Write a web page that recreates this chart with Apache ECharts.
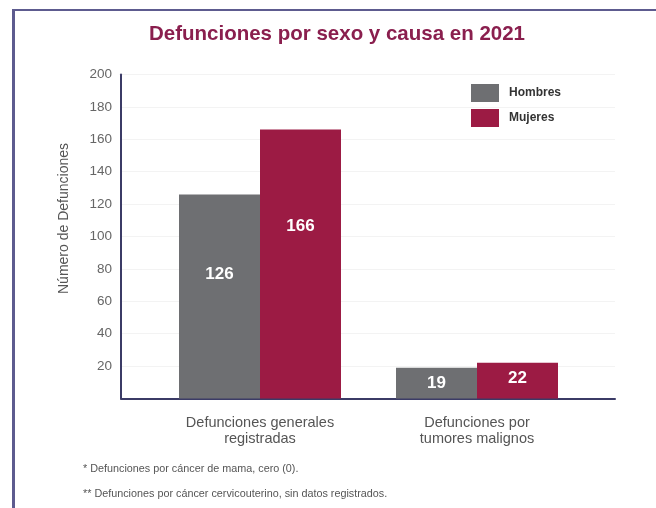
<!DOCTYPE html>
<html>
<head>
<meta charset="utf-8">
<script src="https://cdn.jsdelivr.net/npm/echarts@6/dist/echarts.min.js"></script>
<style>
html,body{margin:0;padding:0;background:#fff;}
#c{width:656px;height:508px;}
</style>
</head>
<body>
<div id="c"></div>
<script>
var categories = ['Defunciones generales\nregistradas', 'Defunciones por\ntumores malignos'];
var hombres = [126, 19];
var mujeres = [166, 22];
var yTicks = [0, 20, 40, 60, 80, 100, 120, 140, 160, 180, 200];
var seriesNames = ['Hombres', 'Mujeres'];
var titleText = 'Defunciones por sexo y causa en 2021';
var yName = 'Número de Defunciones';
var notes = ['* Defunciones por cáncer de mama, cero (0).', '** Defunciones por cáncer cervicouterino, sin datos registrados.'];

var chart = echarts.init(document.getElementById('c'));
var font = 'Liberation Sans, Arial, sans-serif';

function items(arr, tallPos, smallPos) {
  return arr.map(function (v) {
    return {
      value: v,
      label: { position: v < 50 ? ['50%', smallPos] : ['50%', tallPos] }
    };
  });
}

var barLabel = {
  show: true, color: '#fff', fontWeight: 'bold', fontSize: 17, fontFamily: font,
  align: 'center', verticalAlign: 'middle'
};

chart.setOption({
  backgroundColor: '#ffffff',
  animation: false,
  title: {
    text: titleText, left: 144, top: 19,
    textStyle: { color: '#8a1f4e', fontSize: 20.5, fontWeight: 'bold', fontFamily: font }
  },
  legend: {
    data: seriesNames, orient: 'vertical', left: 471, top: 84, padding: 0,
    itemWidth: 28, itemHeight: 18, itemGap: 7, icon: 'rect',
    textStyle: { color: '#333', fontWeight: 'bold', fontSize: 12, fontFamily: font, padding: [0, 0, 0, 5] }
  },
  grid: [
    { left: 151.5, right: 70.5, top: 74.5, bottom: 109.5 },
    { left: 121, right: 41, top: 74.5, bottom: 109.5 }
  ],
  xAxis: [
    {
      type: 'category', gridIndex: 0, data: categories,
      axisLine: { show: false }, axisTick: { show: false },
      axisLabel: { color: '#555', fontSize: 14.5, fontFamily: font, margin: 16, lineHeight: 16 }
    },
    {
      type: 'category', gridIndex: 1, data: [''],
      axisLine: { show: true, lineStyle: { color: '#3b3b66', width: 2 } },
      axisTick: { show: false }, axisLabel: { show: false }
    }
  ],
  yAxis: [
    {
      type: 'value', gridIndex: 0, min: yTicks[0], max: yTicks[yTicks.length - 1], interval: 20,
      axisLine: { show: false }, axisTick: { show: false }, axisLabel: { show: false },
      splitLine: { show: false }
    },
    {
      type: 'value', gridIndex: 1, min: yTicks[0], max: yTicks[yTicks.length - 1], interval: 20,
      name: yName, nameLocation: 'middle', nameGap: 50,
      nameTextStyle: { color: '#555', fontSize: 14, fontFamily: font, padding: [0, 0, 0, 36] },
      axisLine: { show: true, lineStyle: { color: '#3b3b66', width: 2 } },
      axisTick: { show: false },
      axisLabel: { color: '#666', fontSize: 13.5, fontFamily: font, margin: 9, showMinLabel: false,
        formatter: function (v) { return v === 0 ? '' : String(v); } },
      splitLine: { show: true, lineStyle: { color: '#f3f3f3', width: 1 } }
    }
  ],
  series: [
    {
      name: seriesNames[0], type: 'bar', xAxisIndex: 0, yAxisIndex: 0,
      data: items(hombres, '39%', '50%'), barWidth: 81, barGap: '0%',
      itemStyle: { color: '#6e6f72' }, label: barLabel
    },
    {
      name: seriesNames[1], type: 'bar', xAxisIndex: 0, yAxisIndex: 0,
      data: items(mujeres, '36%', '44%'), barWidth: 81, barGap: '0%',
      itemStyle: { color: '#9c1b44' }, label: barLabel
    }
  ],
  graphic: [
    { type: 'rect', shape: { x: 12, y: 9, width: 650, height: 2 }, style: { fill: '#5d5b8f' }, silent: true },
    { type: 'rect', shape: { x: 12, y: 9, width: 3, height: 510 }, style: { fill: '#5d5b8f' }, silent: true },
    { type: 'text', left: 83, top: 464, style: { text: notes[0], fill: '#555', fontSize: 10.8, fontFamily: font } },
    { type: 'text', left: 83, top: 489, style: { text: notes[1], fill: '#555', fontSize: 10.8, fontFamily: font } }
  ]
});
</script>
</body>
</html>
